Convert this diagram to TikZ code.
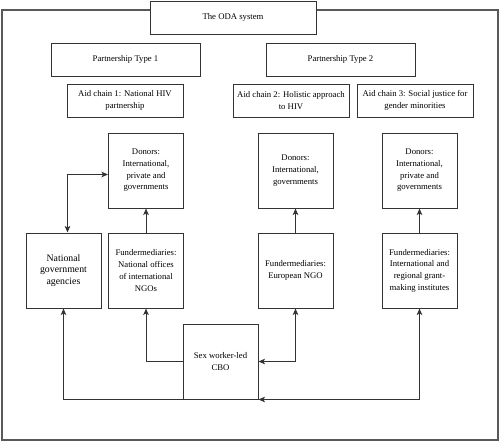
\documentclass[tikz,border=0pt]{standalone}
\usepackage{fontspec}
\setmainfont{Liberation Serif}
\usepackage{xcolor}
\definecolor{boxline}{gray}{0.20}
\definecolor{frameline}{gray}{0.35}
\usepackage{tikz}
\usetikzlibrary{arrows.meta, positioning, shapes}

\begin{document}
\begin{tikzpicture}[x=1pt, y=-1pt, >={Stealth[length=6.5pt, width=5.5pt, inset=1.5pt]},
	box/.style={draw=boxline, line width=1pt, fill=white, inner sep=0pt, align=center,
		font=\fontsize{8.7}{11.7}\selectfont},
	head/.style={box, minimum width=#1, minimum height=33pt},
	actor/.style={box, minimum width=75pt, minimum height=75pt},
	link/.style={draw=boxline, line width=1pt}]

\useasboundingbox (0,0) rectangle (500,442);

\draw[frameline, line width=1.2pt] (2,10) rectangle (498,440); % outer frame

% headings
\node[head=166pt] (oda) at (233,17.5) {The ODA system};
\node[head=149pt] (pt1) at (125.5,59.5) {Partnership Type 1};
\node[head=149pt] (pt2) at (340.5,59.5) {Partnership Type 2};
\node[head=116pt] (ac1) at (125,100.5) {Aid chain 1: National HIV\\partnership};
\node[head=116pt] (ac2) at (291,100.5) {Aid chain 2: Holistic approach\\to HIV};
\node[head=116pt] (ac3) at (415,100.5) {Aid chain 3: Social justice for\\gender minorities};

% donors
\node[actor] (don1) at (146,170.5) {Donors:\\International,\\private and\\governments};
\node[actor] (don2) at (295.5,170.5) {Donors:\\International,\\governments};
\node[actor] (don3) at (419.5,170.5) {Donors:\\International,\\private and\\governments};

% fundermediaries
\node[actor, font=\fontsize{9.8}{11.8}\selectfont] (gov) at (63.5,270.5) {National\\government\\agencies};
\node[actor] (fund1) at (146,270.5) {Fundermediaries:\\National offices\\of international\\NGOs};
\node[actor] (fund2) at (295.5,270.5) {Fundermediaries:\\European NGO};
\node[actor] (fund3) at (419.5,270.5) {Fundermediaries:\\International and\\regional grant-\\making institutes};

\node[actor] (cbo) at (220.5,361.5) {Sex worker-led\\CBO};

% funding flows
\foreach \i in {1,2,3} {
	\draw[link, ->] (fund\i) -- (don\i);
}
\draw[link, <->] ([xshift=4pt]gov.north) |- ([yshift=-4pt]don1.west);
\draw[link, ->] (cbo.west) -| (fund1.south);
\draw[link, <->] (cbo.east) -| (fund2.south);
\draw[link, ->] (cbo.south west) -| (gov.south);
\draw[link, <->] (cbo.south east) -| (fund3.south);

\end{tikzpicture}
\end{document}
